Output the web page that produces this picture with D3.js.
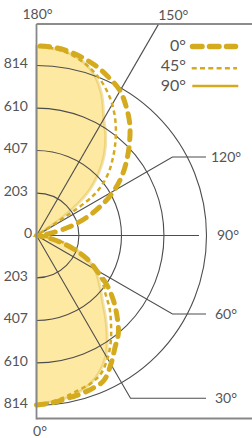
<!DOCTYPE html>
<html>
<head>
<meta charset="utf-8">
<script src="https://cdn.jsdelivr.net/npm/d3@7"></script>
<style>
  body { margin: 0; background: #fff; }
  text { font-family: Lato, "Open Sans", sans-serif; fill: #555; }
</style>
</head>
<body>
<svg id="chart" width="252" height="438"></svg>
<script>
// angles in degrees, 0 = straight down, 180 = straight up
const angles = [0, 5, 10, 15, 20, 25, 30, 35, 40, 45, 50, 55, 60, 65, 70, 75, 80, 85, 90,
  95, 100, 105, 110, 115, 120, 125, 130, 135, 140, 145, 150, 155, 160, 165, 170, 175, 180];

// candela values for the three C-planes
const c0 = [812, 805, 795, 788, 780, 765, 712, 655, 610, 545, 480, 410, 330, 270, 190, 110, 45, 10, 0,
  25, 80, 170, 258, 345, 428, 500, 565, 630, 695, 750, 800, 830, 857, 878, 895, 905, 908];
const c45 = [810, 800, 785, 768, 755, 730, 680, 620, 555, 495, 430, 385, 330, 270, 200, 140, 70, 20, 0,
  0, 0, 0, 0, 0, 0, 330, 440, 515, 588, 660, 725, 780, 825, 860, 885, 900, 905];
const c90 = [812, 800, 792, 778, 755, 718, 665, 590, 515, 448, 400, 360, 322, 270, 210, 140, 60, 15, 0,
  0, 0, 0, 0, 0, 0, 160, 320, 420, 505, 578, 645, 740, 815, 862, 888, 898, 905];

const ringTicks = [203, 407, 610, 814];
const spokeAngles = [30, 60, 90, 120, 150];
const legendLabels = ["0°", "45°", "90°"];

const gold = "#d4ab1f";
const cx = 36.5, cy = 235.5;

const svg = d3.select("#chart");
const r = d3.scaleLinear().domain([0, 814]).range([0, 170]);
const toRad = d => (180 - d) * Math.PI / 180;

const g = svg.append("g").attr("transform", `translate(${cx},${cy})`);

const line = d3.lineRadial()
  .angle((d, i) => toRad(angles[i]))
  .radius(d => r(d))
  .curve(d3.curveCatmullRom.alpha(0.5));

// filled 90° distribution
g.append("path")
  .attr("d", line(c90) + "Z")
  .attr("fill", "#fde9a2")
  .attr("stroke", gold)
  .attr("stroke-opacity", 0.35)
  .attr("stroke-width", 3);

// grid rings
ringTicks.forEach(t => {
  const p = d3.path();
  p.arc(0, 0, r(t), -Math.PI / 2, Math.PI / 2);
  g.append("path").attr("d", p.toString())
    .attr("fill", "none").attr("stroke", "#4d4d4d").attr("stroke-width", 1.1);
});

// spokes with leader lines
const spokeEnd = { 30: 188, 60: 157, 90: 162.5, 120: 157, 150: 243.5 };
spokeAngles.forEach(a => {
  const ang = toRad(a);
  const len = spokeEnd[a];
  const x = len * Math.sin(ang), y = -len * Math.cos(ang);
  let pts = [[0, 0], [x, y]];
  if (a !== 90 && a !== 150) pts.push([206 - cx, y]);
  g.append("path").attr("d", d3.line()(pts))
    .attr("fill", "none").attr("stroke", "#4d4d4d").attr("stroke-width", 1.1);
  let tx, ty, anchor = "start";
  if (a === 150) { tx = x; ty = -cy + 15; }
  else if (a === 90) { tx = 217 - cx; ty = y; }
  else { tx = (a === 120 ? 211 : 215) - cx; ty = y; }
  g.append("text").attr("x", tx).attr("y", ty)
    .attr("dy", "0.35em").attr("text-anchor", anchor)
    .attr("font-size", 14).text(a + "°");
});

// frame
svg.append("line").attr("x1", cx).attr("x2", 252).attr("y1", 24).attr("y2", 24)
  .attr("stroke", "#666").attr("stroke-width", 1.5);
svg.append("line").attr("x1", cx).attr("x2", 252).attr("y1", 418.5).attr("y2", 418.5)
  .attr("stroke", "#888").attr("stroke-width", 2);
svg.append("line").attr("x1", cx).attr("x2", cx).attr("y1", 24).attr("y2", 419.5)
  .attr("stroke", "#888").attr("stroke-width", 1.8);

// distribution curves
g.append("path").attr("d", line(c45))
  .attr("fill", "none").attr("stroke", gold).attr("stroke-width", 2.5)
  .attr("stroke-dasharray", "4.5,3.5");
g.append("path").attr("d", line(c0))
  .attr("fill", "none").attr("stroke", gold).attr("stroke-width", 5)
  .attr("stroke-linecap", "round").attr("stroke-dasharray", "9,8");

// radial tick labels
const tickLabels = [0].concat(ringTicks);
tickLabels.forEach(t => {
  const ys = t === 0 ? [0] : [-r(t), r(t)];
  ys.forEach(y => {
    svg.append("text").attr("x", t === 0 ? 32 : 28).attr("y", cy + y - 2)
      .attr("dy", "0.35em").attr("text-anchor", "end")
      .attr("font-size", 14).text(t);
  });
});

svg.append("text").attr("x", 37.5).attr("y", 14).attr("dy", "0.35em")
  .attr("text-anchor", "middle").attr("font-size", 14).text("180°");
svg.append("text").attr("x", 40).attr("y", 431).attr("dy", "0.35em")
  .attr("text-anchor", "middle").attr("font-size", 14).text("0°");

// legend
const legY = [45.5, 65.5, 85];
const legLineY = [46.5, 68.3, 86];
const legStyle = [
  { w: 5.5, dash: "9.5,7.5", cap: "round", x1: 192.5, x2: 235.5 },
  { w: 2.5, dash: "5,3.3", cap: "butt", x1: 191.7, x2: 237 },
  { w: 2.7, dash: null, cap: "butt", x1: 192.3, x2: 238.3 }
];
legendLabels.forEach((lab, i) => {
  svg.append("text").attr("x", 186).attr("y", legY[i]).attr("dy", "0.35em")
    .attr("text-anchor", "end").attr("font-size", 16).text(lab);
  const s = legStyle[i];
  svg.append("line").attr("x1", s.x1).attr("x2", s.x2)
    .attr("y1", legLineY[i]).attr("y2", legLineY[i])
    .attr("stroke", gold).attr("stroke-width", s.w)
    .attr("stroke-linecap", s.cap)
    .attr("stroke-dasharray", s.dash);
});
</script>
</body>
</html>
